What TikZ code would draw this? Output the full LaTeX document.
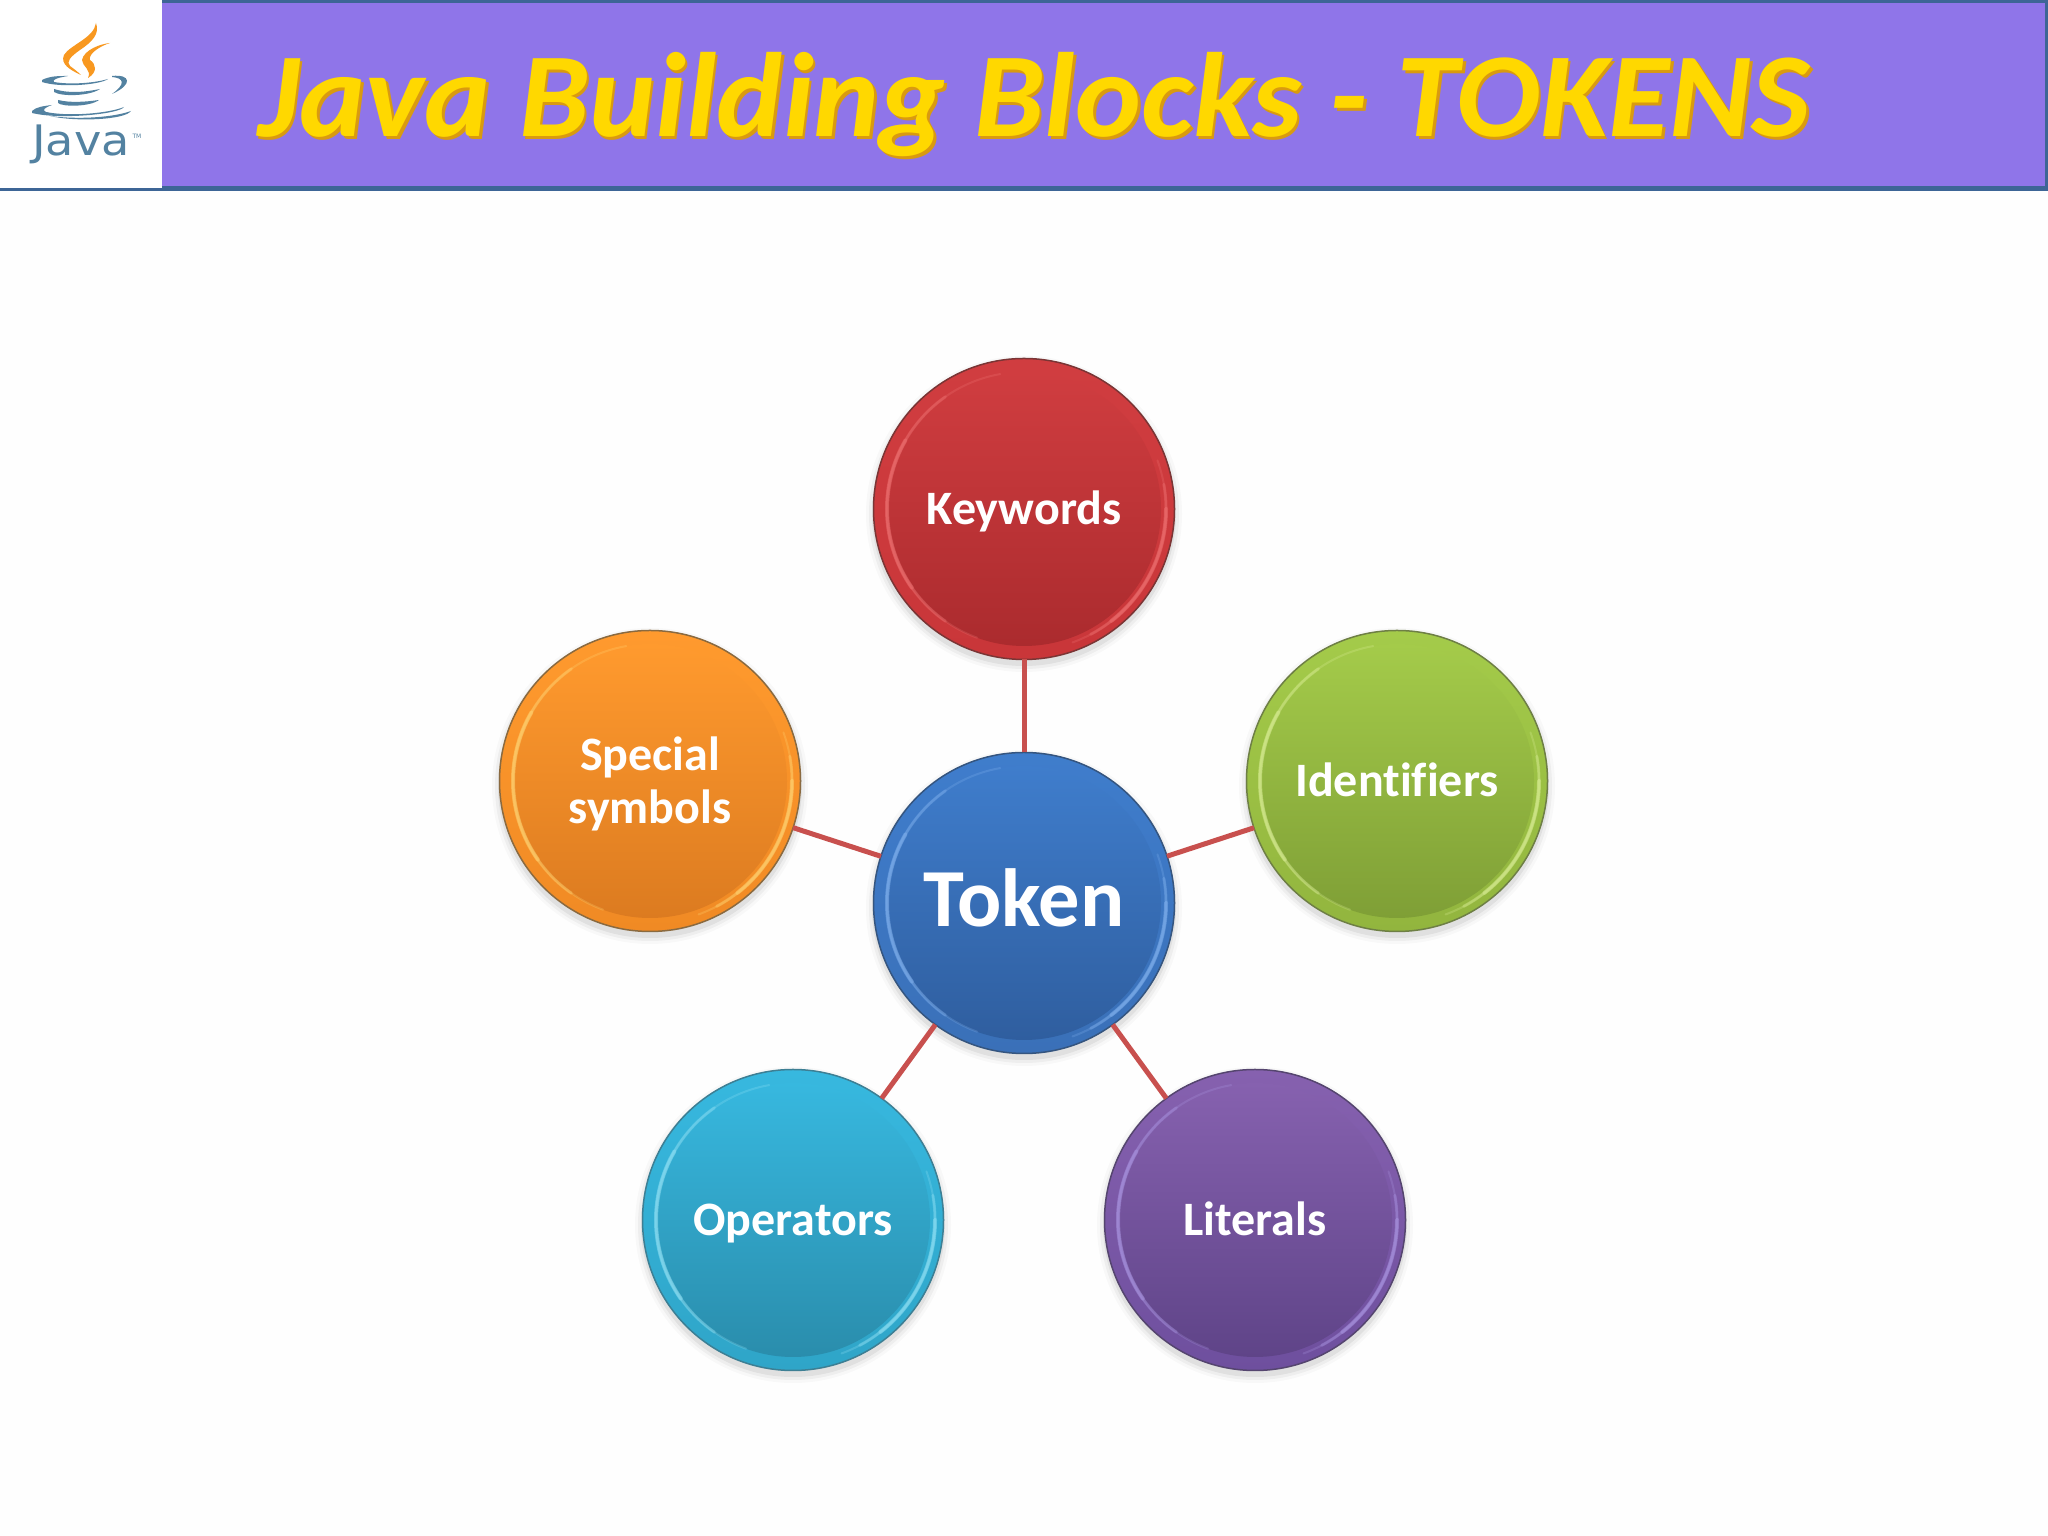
\documentclass[tikz,border=0pt]{standalone}
\usepackage{fontspec}
\setmainfont{Carlito}[Ligatures=NoCommon]
\newfontfamily\javafont{DejaVu Sans}
\usetikzlibrary{shadings}
\definecolor{bannerfill}{HTML}{8F75E9}
\definecolor{bannerline}{HTML}{3D6596}
\definecolor{linkred}{HTML}{C8504E}
\definecolor{javablue}{HTML}{5382A1}
\definecolor{javaorange}{HTML}{F89820}
\definecolor{titlegold}{HTML}{FFD800}
\definecolor{titledeep}{HTML}{D99A10}
\newcommand{\liftA}{\rule[-12pt]{0pt}{56pt}}
\newcommand{\liftB}{\rule[-20pt]{0pt}{88pt}}
\newcommand{\liftHigh}{\rule{0pt}{44pt}}
\newcommand{\liftLow}{\rule[-12pt]{0pt}{12pt}}
\tikzset{
  x=1pt,y=1pt,
  link/.style={draw=linkred,line width=5pt},
  discnode/.style={circle,inner sep=0pt,outer sep=0pt,minimum size=301pt,text=white,align=center,
    font=\bfseries\fontsize{48}{53.5}\selectfont},
  titletext/.style={anchor=base west,inner sep=0pt,font=\bfseries\itshape\fontsize{120}{130}\selectfont},
  cupline/.style={fill=javablue,draw=none},
  flame/.style={fill=javaorange,draw=none}
}
% #1 name, #2 position, #3 rim, #4 top, #5 bottom, #6 highlight, #7 outline, #8 text, #9 extra style
\newcommand{\disc}[9]{%
  \definecolor{cRim}{HTML}{#3}\definecolor{cTop}{HTML}{#4}\definecolor{cBot}{HTML}{#5}%
  \definecolor{cHi}{HTML}{#6}\definecolor{cOut}{HTML}{#7}%
  \foreach \rr/\oo in {158/.025,155/.04,152/.06}{\fill[black,opacity=\oo] ([yshift=-5pt]#2) circle (\rr);}
  \node[discnode,draw=cOut,line width=1.5pt,top color=cTop,bottom color=cRim,#9,
    path picture={
      \coordinate (cc) at (path picture bounding box.center);
      \shade[top color=cTop,bottom color=cBot] (cc) circle (137);
      \foreach \wd/\op/\sa/\sb/\sc/\sd in {2/.25/100/250/-70/20, 3/.35/125/235/-62/10, 4/.45/150/215/-52/0}{
        \draw[cHi,line width=\wd pt,opacity=\op,line cap=round] ([shift={(\sa:137)}]cc) arc (\sa:\sb:137);
        \draw[cHi,line width=\wd pt,opacity=\op,line cap=round] ([shift={(\sc:142)}]cc) arc (\sc:\sd:142);
      }
    }] (#1) at (#2) {#8};%
}
\begin{document}
\begin{tikzpicture}
\useasboundingbox (0,0) rectangle (2048,1536);
\fill[white!99.5!black] (0,0) rectangle (2048,1536);
% banner
\fill[bannerline] (162,1345) rectangle (2048,1536);
\fill[bannerfill] (162,1350) rectangle (2045,1533);
\fill[white] (0,1348) rectangle (162,1536);
\fill[bannerline] (0,1345) rectangle (162,1348);
% title
\node[titletext,text=titledeep] (titleb) at (260.5,1396) {\scalebox{1.044}[1]{Java Building Blocks - TOKENS}};
\node[titletext,text=titlegold] (title) at (258,1399) {\scalebox{1.044}[1]{Java Building Blocks - TOKENS}};
% java logo
\begin{scope}[shift={(0,1536)},yscale=-1]
\fill[flame] (96,23) .. controls (100,34) and (92,42) .. (80,50) .. controls (70,57) and (66,62) .. (70,66) .. controls (74,69) and (78,72) .. (81,75) .. controls (70,70) and (60,64) .. (64,55) .. controls (70,45) and (94,38) .. (96,23) -- cycle;
\fill[flame] (110,43) .. controls (100,44) and (84,50) .. (82,60) .. controls (82,66) and (92,70) .. (88,78) .. controls (98,72) and (96,64) .. (90,60) .. controls (88,54) and (100,46) .. (110,43) -- cycle;
\fill[cupline] (42,80) .. controls (50,76) and (58,76) .. (68,76) .. controls (56,78) and (52,80) .. (54,82) .. controls (70,85) and (95,83) .. (108,79) .. controls (100,85) and (60,88) .. (42,82) -- cycle;
\fill[cupline] (112,76) .. controls (130,74) and (134,84) .. (112,94) .. controls (126,84) and (124,78) .. (112,77) -- cycle;
\fill[cupline] (54,89) .. controls (70,94) and (85,92) .. (100,89) .. controls (90,96) and (62,97) .. (54,92) -- cycle;
\fill[cupline] (58,100) .. controls (70,103) and (85,102) .. (99,100) .. controls (90,107) and (62,107) .. (58,103) -- cycle;
\fill[cupline] (32,111) .. controls (36,107) and (44,106) .. (52,105) .. controls (44,108) and (42,110) .. (46,112) .. controls (70,117) and (110,113) .. (124,107) .. controls (120,114) and (60,120) .. (32,113) -- cycle;
\fill[cupline] (50,116) .. controls (80,120) and (115,117) .. (131,111) .. controls (125,120) and (75,122) .. (50,116) -- cycle;
\end{scope}
\node[text=javablue,anchor=base,inner sep=0pt,font=\javafont\fontsize{42}{46}\selectfont] (javaword) at (81,1380) {\scalebox{1.1}[1]{Java}};
\node[text=javablue,inner sep=0pt,font=\javafont\fontsize{6}{7}\selectfont] (javatm) at (137,1400) {TM};
% discs
\disc{keywords}{1024,1027}{C93639}{D03D40}{AB2B2E}{F07575}{7A3535}{\liftA Keywords}{}
\disc{identifiers}{1397,755}{92B53E}{A4CB4A}{7F9F36}{DDF09A}{6E7F45}{\liftA Identifiers}{}
\disc{special}{650,755}{F08A24}{FF9A2E}{DC7B20}{FFD878}{8A6A40}{\liftHigh Special\\symbols\liftLow}{}
\disc{operators}{793,316}{2FA5C8}{37B8DF}{2A8DAC}{95E3F6}{3D7F94}{\liftA Operators}{}
\disc{literals}{1255,316}{6E4F9E}{8661AF}{5F4488}{AC98E4}{55456F}{\liftA Literals}{}
\disc{token}{1024,633}{3A70B8}{3F7DCC}{2F5E9F}{84B4F0}{35557F}{\liftB Token}{font=\bfseries\fontsize{82.5}{90}\selectfont}
% connectors
\draw[link] (token) -- (keywords);
\draw[link] (token) -- (identifiers);
\draw[link] (token) -- (special);
\draw[link] (token) -- (operators);
\draw[link] (token) -- (literals);
\end{tikzpicture}
\end{document}
